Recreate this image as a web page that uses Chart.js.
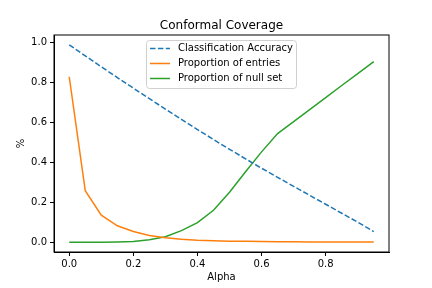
<!DOCTYPE html>
<html>
<head>
<meta charset="utf-8">
<script src="https://cdn.jsdelivr.net/npm/chart.js@4"></script>
<style>
  html, body { margin: 0; padding: 0; background: #fff; }
  #wrap { width: 432px; height: 288px; }
</style>
</head>
<body>
<div id="wrap"><canvas id="chart" width="432" height="288"></canvas></div>
<script>
// Data
const alphas = [0, 0.05, 0.1, 0.15, 0.2, 0.25, 0.3, 0.35, 0.4, 0.45, 0.5, 0.55, 0.6, 0.65, 0.7, 0.75, 0.8, 0.85, 0.9, 0.95];
const accuracy = [0.99, 0.935, 0.88, 0.826, 0.773, 0.72, 0.668, 0.616, 0.565, 0.515, 0.466, 0.418, 0.371, 0.325, 0.28, 0.235, 0.19, 0.145, 0.1, 0.053];
const entries = [0.83, 0.258, 0.135, 0.082, 0.053, 0.033, 0.022, 0.015, 0.01, 0.007, 0.005, 0.004, 0.003, 0.002, 0.002, 0.001, 0.001, 0.001, 0.001, 0.001];
const nullSet = [0, 0, 0, 0.001, 0.003, 0.012, 0.027, 0.058, 0.098, 0.16, 0.25, 0.353, 0.453, 0.545, 0.605, 0.665, 0.725, 0.786, 0.846, 0.906];
const xTicks = [0, 0.2, 0.4, 0.6, 0.8];
const yTicks = [0, 0.2, 0.4, 0.6, 0.8, 1.0];
const seriesNames = ['Classification Accuracy', 'Proportion of entries', 'Proportion of null set'];

const FONT = "'DejaVu Sans', sans-serif";

function toPoints(ys) {
    return alphas.map((a, i) => ({ x: a, y: ys[i] }));
}

// Frame, title, axis labels and the in-axes legend
const decorPlugin = {
    id: 'decor',
    afterDraw(chart) {
        const ctx = chart.ctx;
        const a = chart.chartArea;
        ctx.save();
        ctx.strokeStyle = '#000';
        ctx.lineWidth = 1;
        ctx.strokeRect(a.left, a.top, a.right - a.left, a.bottom - a.top);

        ctx.fillStyle = '#000';
        ctx.font = '12px ' + FONT;
        ctx.textAlign = 'center';
        ctx.textBaseline = 'alphabetic';
        ctx.fillText('Conformal Coverage', (a.left + a.right) / 2, 29);

        ctx.font = '10px ' + FONT;
        ctx.fillText('Alpha', (a.left + a.right) / 2, 280);
        ctx.save();
        ctx.translate(24, (a.top + a.bottom) / 2);
        ctx.rotate(-Math.PI / 2);
        ctx.fillText('%', 0, 0);
        ctx.restore();

        // legend box
        const bx = 146.5, by = 40.5, bw = 150, bh = 48, r = 3;
        ctx.beginPath();
        ctx.moveTo(bx + r, by);
        ctx.arcTo(bx + bw, by, bx + bw, by + bh, r);
        ctx.arcTo(bx + bw, by + bh, bx, by + bh, r);
        ctx.arcTo(bx, by + bh, bx, by, r);
        ctx.arcTo(bx, by, bx + bw, by, r);
        ctx.closePath();
        ctx.fillStyle = 'rgba(255,255,255,0.8)';
        ctx.fill();
        ctx.strokeStyle = '#d0d0d0';
        ctx.stroke();

        const rows = [48.5, 63.5, 78.5];
        chart.data.datasets.forEach((ds, i) => {
            ctx.beginPath();
            ctx.setLineDash(ds.borderDash || []);
            ctx.strokeStyle = ds.borderColor;
            ctx.lineWidth = ds.borderWidth;
            ctx.moveTo(150, rows[i]);
            ctx.lineTo(170, rows[i]);
            ctx.stroke();
            ctx.setLineDash([]);
            ctx.fillStyle = '#000';
            ctx.font = '10px ' + FONT;
            ctx.textAlign = 'left';
            ctx.textBaseline = 'middle';
            ctx.fillText(ds.label, 178, rows[i]);
        });
        ctx.restore();
    }
};

new Chart(document.getElementById('chart').getContext('2d'), {
    type: 'line',
    data: {
        datasets: [
            { label: seriesNames[0], data: toPoints(accuracy), borderColor: '#1f77b4', borderWidth: 1.5, borderDash: [5.5, 2.4], pointRadius: 0, tension: 0, fill: false },
            { label: seriesNames[1], data: toPoints(entries), borderColor: '#ff7f0e', borderWidth: 1.5, pointRadius: 0, tension: 0, fill: false },
            { label: seriesNames[2], data: toPoints(nullSet), borderColor: '#2ca02c', borderWidth: 1.5, pointRadius: 0, tension: 0, fill: false }
        ]
    },
    options: {
        responsive: false,
        animation: false,
        layout: { padding: { left: 0, right: 43, top: 35, bottom: 0 } },
        plugins: { legend: { display: false }, title: { display: false }, tooltip: { enabled: false } },
        scales: {
            x: {
                type: 'linear',
                min: -0.0475,
                max: 0.9975,
                afterBuildTicks: s => { s.ticks = xTicks.map(v => ({ value: v })); },
                afterFit: s => { s.height = 36; },
                grid: { drawOnChartArea: false, drawTicks: true, tickLength: 4, color: '#000' },
                border: { display: true, color: '#000' },
                ticks: { color: '#000', font: { family: FONT, size: 10 }, padding: 2, maxRotation: 0, callback: v => v.toFixed(1) }
            },
            y: {
                type: 'linear',
                min: -0.0495,
                max: 1.0395,
                afterBuildTicks: s => { s.ticks = yTicks.map(v => ({ value: v })); },
                afterFit: s => { s.width = 54; },
                grid: { drawOnChartArea: false, drawTicks: true, tickLength: 4, color: '#000' },
                border: { display: true, color: '#000' },
                ticks: { color: '#000', font: { family: FONT, size: 10 }, padding: 3, callback: v => v.toFixed(1) }
            }
        }
    },
    plugins: [decorPlugin]
});
</script>
</body>
</html>
